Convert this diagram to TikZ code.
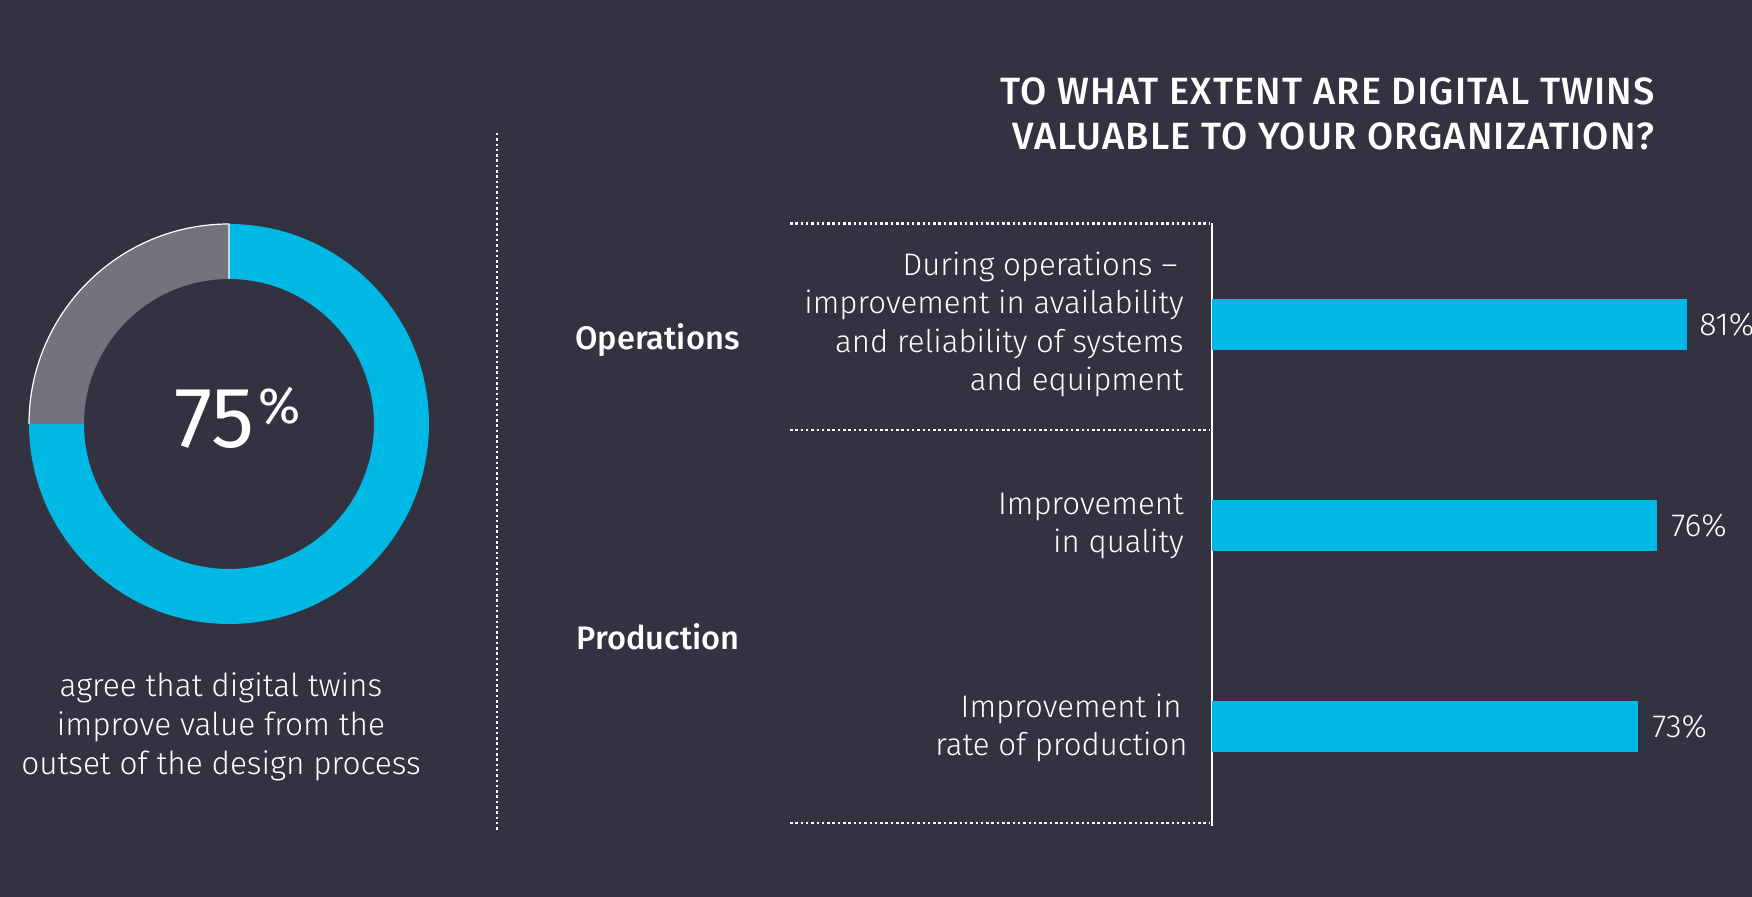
\documentclass[tikz,border=0pt]{standalone}
\usepackage{fontspec}
\setmainfont{Fira Sans Light}
\newfontfamily\regf{Fira Sans}
\newfontfamily\medf{Fira Sans Medium}
\newfontfamily\ttlf{Fira Sans Medium}[LetterSpace=3]
\usetikzlibrary{calc}
\definecolor{bg}{RGB}{51,50,64}
\definecolor{ringblue}{RGB}{0,184,228}
\definecolor{ringgray}{RGB}{115,115,125}
\tikzset{
  dotline/.style={white, line width=1.25pt, dash pattern=on 1.25pt off 1.4pt},
  axisline/.style={white, line width=1.2pt},
  barfill/.style={fill=ringblue},
  lbl/.style={white, inner sep=0pt, align=right, anchor=base east, font=\fontsize{15.6}{19.25}\selectfont},
  pct/.style={white, inner sep=0pt, anchor=west, font=\fontsize{16}{19}\selectfont},
  grp/.style={white, inner sep=0pt, anchor=base east, font=\medf\fontsize{16.3}{19}\selectfont},
  ttl/.style={white, inner sep=0pt, align=right, anchor=base east, font=\ttlf\fontsize{19}{22.5}\selectfont},
  captext/.style={white, inner sep=0pt, align=center, anchor=base, font=\fontsize{15.8}{19.5}\selectfont},
}
\begin{document}
\begin{tikzpicture}[x=0.5pt,y=0.5pt]
\fill[bg] (0,0) rectangle (1752,897);
\useasboundingbox (0,0) rectangle (1752,897);
% donut
\coordinate (ring) at (229,473);
\fill[ringblue] ($(ring)+(90:200)$) arc[start angle=90, end angle=-180, radius=200]
  -- ($(ring)+(180:145)$) arc[start angle=-180, end angle=90, radius=145] -- cycle;
\fill[ringgray] ($(ring)+(90:200)$) arc[start angle=90, end angle=180, radius=200]
  -- ($(ring)+(180:145)$) arc[start angle=180, end angle=90, radius=145] -- cycle;
\draw[white, line width=0.6pt] ($(ring)+(180:200)$) arc[start angle=180, end angle=90, radius=200] -- ($(ring)+(90:145)$);
\node[white, inner sep=0pt, anchor=base west, font=\regf\fontsize{43}{46}\selectfont] (big) at (174,449)
  {75\kern2pt\raisebox{12pt}{\fontsize{25.5}{28}\selectfont\%}};
\node[captext] (capt) at (221,122) {agree that digital twins\\improve value from the\\outset of the design process};
% separator
\coordinate (sepT) at (497,764);
\coordinate (sepB) at (497,65);
\draw[dotline] (sepT) -- (sepB);
% title
\node[ttl] (title) at (1655,747) {TO WHAT EXTENT ARE DIGITAL TWINS\\VALUABLE TO YOUR ORGANIZATION?};
% axis and dotted rules
\coordinate (axT) at (1212,674);
\coordinate (axB) at (1212,71);
\draw[axisline] (axT) -- (axB);
\coordinate (h1a) at (790,673.5); \coordinate (h1b) at (1209,673.5);
\coordinate (h2a) at (790,467);   \coordinate (h2b) at (1209,467);
\coordinate (h3a) at (790,74);    \coordinate (h3b) at (1209,74);
\draw[dotline] (h1a) -- (h1b);
\draw[dotline] (h2a) -- (h2b);
\draw[dotline] (h3a) -- (h3b);
% groups
\node[grp] (ops) at (740,547) {Operations};
\node[grp] (prod) at (740,247) {Production};
% bars
\fill[barfill] (1212,547) rectangle (1687,598);
\fill[barfill] (1212,346) rectangle (1657,397);
\fill[barfill] (1212,145) rectangle (1638,196);
\node[pct] (p1) at (1699,572.5) {81\%};
\node[pct] (p2) at (1671,371.5) {76\%};
\node[pct] (p3) at (1652,170.5) {73\%};
% labels
\node[lbl] (l1) at (1184,506) {During operations –\hspace*{3pt}\\improvement in availability\\and reliability of systems\\and equipment};
\node[lbl] (l2) at (1184,344) {Improvement\\in quality};
\node[lbl] (l3) at (1188,141) {Improvement in\hspace*{3pt}\\rate of production};
\end{tikzpicture}
\end{document}
